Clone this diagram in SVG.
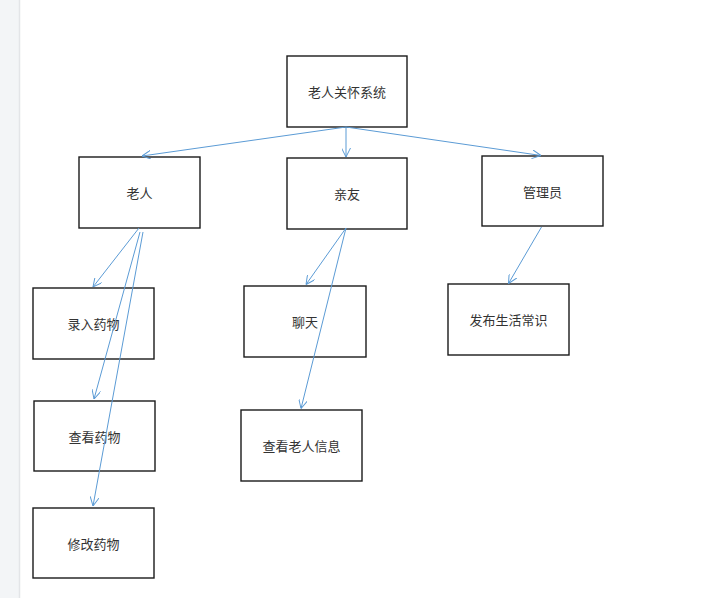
<svg xmlns="http://www.w3.org/2000/svg" width="720" height="598" viewBox="0 0 720 598">
<defs>
<style>
.box{fill:#fff;stroke:#1a1a1a;stroke-width:1.4}
.lbl{font-family:"Noto Sans CJK SC","Liberation Sans",sans-serif;font-size:13px;fill:#333;text-anchor:middle;dominant-baseline:central}
.con{stroke:#5b9bd5;stroke-width:1;fill:none;marker-end:url(#ah)}
</style>
<marker id="ah" viewBox="0 0 10 10" refX="10" refY="5" markerWidth="9" markerHeight="9" markerUnits="userSpaceOnUse" orient="auto">
<path d="M0,0 L10,5 L0,10" fill="none" stroke="#5b9bd5" stroke-width="1.1"/>
</marker>
</defs>
<rect x="0" y="0" width="720" height="598" fill="#fff"/>
<rect x="0" y="0" width="19" height="598" fill="#f3f5f7"/>
<line x1="19.5" y1="0" x2="19.5" y2="598" stroke="#e3e5e8" stroke-width="1.5"/>
<g id="n-root"><rect class="box" x="287" y="56" width="120" height="71"/><text class="lbl" x="347" y="91">老人关怀系统</text></g>
<g id="n-laoren"><rect class="box" x="79" y="157" width="121" height="71"/><text class="lbl" x="139.5" y="192">老人</text></g>
<g id="n-qinyou"><rect class="box" x="287" y="158" width="120" height="71"/><text class="lbl" x="347" y="193">亲友</text></g>
<g id="n-guanli"><rect class="box" x="482" y="156" width="121" height="70"/><text class="lbl" x="542.5" y="191">管理员</text></g>
<g id="n-luru"><rect class="box" x="33" y="288" width="121" height="71"/><text class="lbl" x="93.5" y="323.5">录入药物</text></g>
<g id="n-chakan"><rect class="box" x="34" y="401" width="121" height="70"/><text class="lbl" x="94.5" y="436">查看药物</text></g>
<g id="n-xiugai"><rect class="box" x="33" y="508" width="121" height="70"/><text class="lbl" x="93.5" y="543">修改药物</text></g>
<g id="n-liaotian"><rect class="box" x="244" y="286" width="122" height="71"/><text class="lbl" x="305" y="321.5">聊天</text></g>
<g id="n-chakanlaoren"><rect class="box" x="241" y="410" width="121" height="71"/><text class="lbl" x="301.5" y="445">查看老人信息</text></g>
<g id="n-fabu"><rect class="box" x="448" y="284" width="121" height="71"/><text class="lbl" x="508.5" y="319.5">发布生活常识</text></g>
<g id="connectors">
<path class="con" d="M346,127 L142,156"/>
<path class="con" d="M346,127 L346,157"/>
<path class="con" d="M346,127 L541,155.5"/>
<path class="con" d="M139,228 L93,287"/>
<path class="con" d="M140,232 L94,399"/>
<path class="con" d="M143,232 L93,506"/>
<path class="con" d="M346,228 L306,284.5"/>
<path class="con" d="M346,228 L301,408.5"/>
<path class="con" d="M541.5,227 L508.5,283.5"/>
</g>
</svg>
